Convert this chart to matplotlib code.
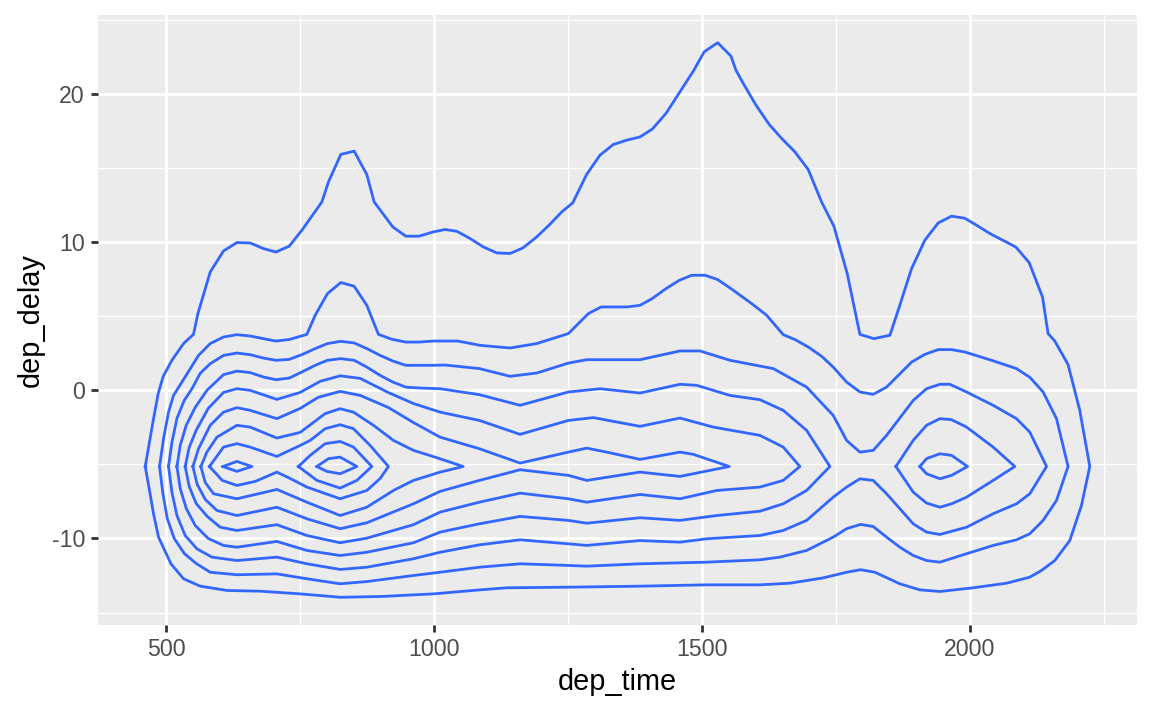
import matplotlib
matplotlib.use("Agg")
import matplotlib.pyplot as plt

# ggplot2 look: density_2d contours of dep_delay against dep_time
LINE_COLOR = "#3366FF"
PANEL_BG = "#EBEBEB"

x_major = [500, 1000, 1500, 2000]
x_minor = [750, 1250, 1750, 2250]
y_major = [-10, 0, 10, 20]
y_minor = [-15, -5, 5, 15, 25]

# contour paths, (dep_time, dep_delay), outermost first
level1 = [
    (460.8, -5.14), (468.3, -3.58), (475.7, -2.03), (485.1, -0.20), (494.4, 0.95),
    (510.6, 2.03), (532.3, 3.16), (550.9, 3.78), (559.1, 5.18), (582.1, 7.99),
    (606.9, 9.41), (631.9, 9.98), (656.7, 9.95), (681.5, 9.57), (704.7, 9.34),
    (729.5, 9.73), (753.2, 10.81), (790.5, 12.72), (802.8, 14.07), (825.9, 15.93),
    (850.8, 16.15), (874.4, 14.57), (888.1, 12.72), (923.0, 11.03), (947.2, 10.41),
    (972.0, 10.41), (998.7, 10.70), (1020.5, 10.86), (1042.4, 10.74), (1067.2, 10.25),
    (1092.0, 9.68), (1117.0, 9.28), (1141.8, 9.24), (1165.5, 9.61), (1191.6, 10.36),
    (1216.4, 11.22), (1238.3, 12.05), (1258.8, 12.66), (1284.9, 14.59), (1309.7, 15.88),
    (1334.5, 16.60), (1359.5, 16.89), (1384.3, 17.11), (1407.3, 17.64), (1432.9, 18.70),
    (1459.0, 20.16), (1483.8, 21.55), (1504.3, 22.86), (1529.3, 23.47), (1554.1, 22.57),
    (1563.4, 21.62), (1577.1, 20.72), (1600.8, 19.26), (1625.6, 17.95), (1648.7, 17.01),
    (1673.5, 16.10), (1698.3, 14.91), (1723.3, 12.72), (1746.3, 11.08), (1771.1, 7.89),
    (1794.8, 3.78), (1820.9, 3.49), (1850.8, 3.72), (1866.3, 5.41), (1891.3, 8.22),
    (1916.1, 10.14), (1940.9, 11.30), (1965.9, 11.76), (1990.7, 11.62), (2012.5, 11.15),
    (2037.3, 10.59), (2059.1, 10.18), (2085.8, 9.68), (2110.7, 8.63), (2135.7, 6.30),
    (2146.1, 3.83), (2158.6, 3.33), (2183.4, 1.74), (2205.2, -1.35), (2223.9, -5.14),
    (2208.4, -7.77), (2186.6, -10.14), (2158.6, -11.49), (2133.8, -12.16), (2112.0, -12.61),
    (2068.5, -13.02), (2006.2, -13.33), (1944.1, -13.58), (1906.7, -13.47), (1869.4, -13.06),
    (1822.8, -12.28), (1796.1, -12.11), (1770.0, -12.28), (1726.3, -12.66), (1664.2, -13.02),
    (1608.2, -13.13), (1508.8, -13.13), (1384.3, -13.22), (1247.6, -13.29), (1135.6, -13.33),
    (1085.8, -13.47), (998.7, -13.74), (899.3, -13.92), (824.6, -13.97), (750.0, -13.74),
    (675.4, -13.56), (613.3, -13.51), (563.4, -13.22), (532.3, -12.72), (508.8, -11.71),
    (485.6, -9.91), (476.3, -8.33), (468.8, -6.76),
]

level2 = [
    (487.5, -5.14), (495.0, -3.26), (504.3, -1.47), (513.6, -0.34), (529.3, 0.56),
    (560.3, 2.36), (582.1, 3.16), (606.9, 3.60), (631.9, 3.76), (656.7, 3.67),
    (681.5, 3.49), (704.7, 3.33), (729.5, 3.43), (762.5, 3.78), (778.0, 5.07),
    (800.9, 6.53), (825.9, 7.28), (850.8, 7.03), (874.4, 5.74), (896.1, 3.78),
    (921.1, 3.45), (947.2, 3.26), (972.0, 3.26), (998.7, 3.33), (1044.2, 3.33),
    (1085.8, 3.04), (1141.8, 2.86), (1191.6, 3.16), (1250.6, 3.83), (1287.9, 5.18),
    (1311.6, 5.63), (1359.5, 5.63), (1384.3, 5.74), (1407.3, 6.20), (1432.9, 6.87),
    (1457.7, 7.43), (1480.8, 7.77), (1505.6, 7.77), (1529.3, 7.48), (1554.1, 6.87),
    (1592.7, 5.86), (1620.7, 5.07), (1651.7, 3.76), (1673.5, 3.43), (1698.3, 2.93),
    (1723.3, 2.30), (1745.0, 1.57), (1770.0, 0.56), (1794.8, -0.11), (1819.6, -0.27),
    (1844.6, 0.22), (1891.3, 1.91), (1916.1, 2.43), (1940.9, 2.75), (1965.9, 2.75),
    (1990.7, 2.59), (2040.5, 2.03), (2087.1, 1.47), (2112.0, 0.88), (2136.8, -0.11),
    (2161.8, -1.91), (2183.4, -5.14),
    (2161.8, -7.43), (2136.8, -8.78), (2112.0, -9.68), (2087.1, -10.09), (2043.5, -10.47),
    (1993.9, -11.03), (1944.1, -11.60), (1919.2, -11.49), (1894.3, -11.15), (1869.4, -10.59),
    (1844.6, -9.91), (1819.6, -9.19), (1796.1, -9.05), (1770.0, -9.34), (1745.0, -9.91),
    (1695.3, -10.81), (1645.5, -11.26), (1608.2, -11.44), (1508.8, -11.60), (1384.3, -11.71),
    (1284.9, -11.87), (1250.6, -11.82), (1160.5, -11.71), (1084.5, -11.94), (1011.2, -12.28),
    (961.4, -12.50), (874.4, -12.91), (824.6, -13.06), (762.5, -12.72), (706.5, -12.39),
    (631.9, -12.45), (582.1, -12.28), (555.9, -11.69), (533.6, -11.01), (514.9, -10.00),
    (501.9, -8.65), (493.5, -6.89),
]

level3 = [
    (504.3, -5.14), (510.6, -3.51), (520.0, -1.89), (533.6, -0.68), (548.5, 0.14),
    (563.4, 1.15), (582.1, 1.80), (606.9, 2.36), (631.9, 2.52), (656.7, 2.41),
    (681.5, 2.18), (704.7, 2.03), (729.5, 2.09), (753.2, 2.41), (778.0, 2.82),
    (800.9, 3.16), (825.9, 3.31), (850.8, 3.20), (874.4, 2.82), (899.3, 2.36),
    (923.0, 1.98), (947.2, 1.69), (998.7, 1.69), (1020.5, 1.71), (1084.5, 1.47),
    (1141.8, 0.95), (1191.6, 1.17), (1250.6, 1.84), (1284.9, 2.07), (1384.3, 2.07),
    (1459.0, 2.66), (1496.3, 2.66), (1552.2, 2.03), (1633.0, 1.47), (1695.3, 0.22),
    (1745.0, -1.69), (1770.0, -3.38), (1794.8, -4.17), (1819.6, -4.05), (1844.6, -3.04),
    (1894.3, -0.68), (1919.2, 0.11), (1944.1, 0.41), (1962.7, 0.41), (1993.9, -0.11),
    (2043.5, -1.01), (2087.1, -1.91), (2112.0, -2.82), (2143.2, -5.14),
    (2112.0, -6.98), (2087.1, -7.66), (2043.5, -8.33), (1993.9, -9.24), (1944.1, -9.73),
    (1919.2, -9.57), (1894.3, -9.01), (1869.4, -7.99), (1844.6, -6.98), (1819.6, -6.08),
    (1794.8, -5.97), (1770.0, -6.53), (1745.0, -7.21), (1695.3, -8.78), (1651.7, -9.46),
    (1608.2, -9.80), (1508.8, -10.02), (1459.0, -10.25), (1384.3, -10.14), (1284.9, -10.47),
    (1250.6, -10.36), (1160.5, -10.09), (1084.5, -10.43), (1011.2, -10.93), (961.4, -11.37),
    (874.4, -11.94), (824.6, -12.09), (762.5, -11.71), (706.5, -11.26), (631.9, -11.49),
    (585.3, -11.26), (557.3, -10.70), (535.4, -9.80), (520.0, -8.45), (510.6, -6.87),
]

level4 = [
    (520.0, -5.14), (526.1, -3.72), (537.3, -2.36), (554.1, -1.15), (575.9, 0.00),
    (606.9, 1.06), (631.9, 1.30), (656.7, 1.20), (681.5, 0.90), (704.7, 0.72),
    (729.5, 0.83), (753.2, 1.24), (778.0, 1.69), (800.9, 2.03), (825.9, 2.14),
    (850.8, 2.03), (874.4, 1.57), (899.3, 1.01), (923.0, 0.56), (947.2, 0.22),
    (972.0, 0.16), (1011.2, 0.11), (1084.5, -0.29), (1160.5, -1.01), (1250.6, -0.11),
    (1309.7, 0.11), (1384.3, -0.18), (1459.0, 0.41), (1490.2, 0.34), (1552.2, -0.34),
    (1608.2, -0.63), (1651.7, -1.35), (1695.3, -2.70), (1738.8, -5.14),
    (1695.3, -6.76), (1651.7, -7.66), (1608.2, -8.16), (1527.5, -8.45), (1459.0, -8.78),
    (1384.3, -8.60), (1284.9, -8.97), (1250.6, -8.78), (1160.5, -8.51), (1084.5, -9.01),
    (1011.2, -9.57), (961.4, -10.29), (874.4, -10.93), (824.6, -11.15), (762.5, -10.81),
    (706.5, -10.20), (631.9, -10.59), (606.9, -10.47), (578.4, -10.00), (554.1, -9.12),
    (537.3, -7.97), (526.1, -6.62),
]

level5 = [
    (535.4, -5.14), (542.9, -3.85), (555.9, -2.70), (578.4, -1.22), (606.9, -0.14),
    (631.9, 0.11), (656.7, 0.00), (706.5, -0.61), (750.0, -0.14), (787.3, 0.61),
    (824.6, 0.98), (862.0, 0.81), (914.2, -0.14), (960.8, -0.88), (1011.2, -1.47),
    (1084.5, -2.03), (1160.5, -2.97), (1250.6, -2.03), (1297.2, -1.84), (1384.3, -2.43),
    (1459.0, -1.87), (1521.1, -2.48), (1608.2, -3.04), (1651.7, -3.83), (1682.8, -5.14),
    (1651.7, -6.08), (1608.2, -6.53), (1527.5, -6.76), (1459.0, -7.32), (1384.3, -7.03),
    (1284.9, -7.55), (1250.6, -7.32), (1160.5, -6.94), (1084.5, -7.55), (1011.2, -8.22),
    (961.4, -9.07), (874.4, -9.98), (824.6, -10.29), (762.5, -9.80), (706.5, -9.07),
    (631.9, -9.46), (600.7, -9.24), (576.5, -8.51), (555.9, -7.64), (542.9, -6.49),
]

level6 = [
    (549.8, -5.14), (560.3, -3.94), (582.1, -2.36), (606.9, -1.47), (631.9, -1.17),
    (656.7, -1.35), (706.5, -1.91), (750.0, -1.22), (783.6, -0.47), (824.6, -0.07),
    (862.0, -0.34), (914.2, -1.15), (960.8, -2.16), (1011.2, -3.16), (1084.5, -3.94),
    (1160.5, -4.91), (1250.6, -4.17), (1284.9, -3.90), (1322.2, -4.17), (1384.3, -4.66),
    (1459.0, -4.17), (1483.8, -4.32), (1551.0, -5.14),
    (1459.0, -5.81), (1384.3, -5.52), (1284.9, -6.08), (1250.6, -5.74), (1160.5, -5.36),
    (1084.5, -6.08), (1011.2, -6.82), (961.4, -7.66), (874.4, -8.94), (824.6, -9.34),
    (762.5, -8.67), (706.5, -7.89), (631.9, -8.45), (594.6, -8.11), (572.8, -7.36),
    (557.8, -6.35),
]

level7 = [
    (564.7, -5.14), (575.9, -4.17), (594.6, -3.16), (631.9, -2.36), (656.7, -2.48),
    (706.5, -3.22), (750.0, -2.84), (796.6, -1.57), (824.6, -1.24), (849.5, -1.47),
    (886.8, -2.36), (924.1, -3.38), (961.4, -4.05), (1001.9, -4.51), (1054.3, -5.14),
    (1011.2, -5.52), (961.4, -6.08), (924.1, -6.76), (874.4, -7.89), (824.6, -8.45),
    (762.5, -7.55), (706.5, -6.69), (631.9, -7.32), (588.2, -6.98), (572.8, -6.22),
]

level8 = [
    (580.8, -5.14), (606.9, -3.83), (631.9, -3.60), (656.7, -3.83), (706.5, -4.46),
    (750.0, -3.72), (768.7, -3.38), (796.6, -2.59), (824.6, -2.32), (849.5, -2.59),
    (880.6, -3.72), (914.8, -5.14),
    (899.3, -5.95), (874.4, -6.76), (824.6, -7.32), (762.5, -6.53), (731.3, -5.95),
    (706.5, -5.52), (666.0, -6.15), (631.9, -6.42), (604.5, -6.08),
]

peak_early = [(605.8, -5.14), (631.9, -4.80), (659.9, -5.14), (631.9, -5.47)]

peak_morning_outer = [
    (746.8, -5.14), (768.7, -4.39), (796.6, -3.60), (824.6, -3.45), (849.5, -3.83),
    (883.8, -5.14), (855.8, -6.08), (824.6, -6.60), (781.2, -6.08),
]

peak_morning_inner = [
    (781.2, -5.14), (802.8, -4.61), (824.6, -4.51), (855.8, -5.14), (824.6, -5.63),
    (799.8, -5.47),
]

peak_evening_outer = [
    (1862.0, -5.14), (1894.3, -3.38), (1919.2, -2.36), (1944.1, -1.91), (1965.9, -1.98),
    (1993.9, -2.48), (2043.5, -3.83), (2084.0, -5.14), (2043.5, -6.08), (1993.9, -7.21),
    (1965.9, -7.66), (1944.1, -7.89), (1919.2, -7.61), (1894.3, -6.87),
]

peak_evening_inner = [
    (1906.7, -5.14), (1919.2, -4.61), (1944.1, -4.28), (1965.9, -4.39), (1995.8, -5.14),
    (1965.9, -5.74), (1944.1, -5.97), (1919.2, -5.63),
]

contours = [
    level1, level2, level3, level4, level5, level6, level7, level8,
    peak_early, peak_morning_outer, peak_morning_inner,
    peak_evening_outer, peak_evening_inner,
]

# theme_grey(base_size = 13) sizes, in points
BASE = 13
HALF_LINE = BASE / 2
BASE_LW = BASE / 22 * 2.845 * 0.75

plt.rcParams.update({
    "font.family": ["Liberation Sans", "DejaVu Sans"],
    "axes.spines.top": False,
    "axes.spines.right": False,
    "axes.spines.left": False,
    "axes.spines.bottom": False,
})

fig = plt.figure(figsize=(7.2, 4.44375), dpi=160)
ax = fig.add_axes([98 / 1152, 86 / 711, 1039 / 1152, 610 / 711])
ax.set_facecolor(PANEL_BG)

for path in contours:
    xs = [p[0] for p in path] + [path[0][0]]
    ys = [p[1] for p in path] + [path[0][1]]
    ax.plot(xs, ys, color=LINE_COLOR, lw=1.25, solid_joinstyle="round")

# ggplot default expansion: 5% of the data range on each side
all_x = [p[0] for path in contours for p in path]
all_y = [p[1] for path in contours for p in path]
dx = (max(all_x) - min(all_x)) * 0.05
dy = (max(all_y) - min(all_y)) * 0.05
ax.set_xlim(min(all_x) - dx, max(all_x) + dx)
ax.set_ylim(min(all_y) - dy, max(all_y) + dy)

ax.set_xticks(x_major)
ax.set_xticks(x_minor, minor=True)
ax.set_yticks(y_major)
ax.set_yticks(y_minor, minor=True)
ax.set_xticklabels([str(v) for v in x_major])
ax.set_yticklabels([str(v) for v in y_major])

ax.set_axisbelow(True)
ax.grid(which="major", color="white", lw=BASE_LW)
ax.grid(which="minor", color="white", lw=BASE_LW / 2)
ax.tick_params(which="major", length=HALF_LINE / 2, width=BASE_LW, color="#333333",
               labelcolor="#4D4D4D", labelsize=BASE * 0.8, pad=0.8 * HALF_LINE / 2)
ax.tick_params(which="minor", length=0)

ax.set_xlabel("dep_time", fontsize=BASE, color="black", labelpad=HALF_LINE / 2)
ax.set_ylabel("dep_delay", fontsize=BASE, color="black", labelpad=HALF_LINE / 2)

fig.savefig("out.png", dpi=160)
